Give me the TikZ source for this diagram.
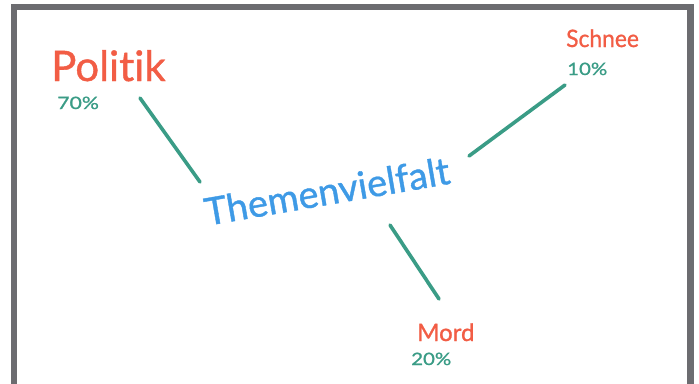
\documentclass[tikz,border=0pt]{standalone}
\usepackage{fontspec}
\setmainfont{Lato}[Ligatures={NoCommon}, FakeBold=1]
\definecolor{framegray}{HTML}{6C6C70}
\definecolor{penred}{HTML}{F25D45}
\definecolor{penteal}{HTML}{3A9C86}
\definecolor{penblue}{HTML}{3E9AE6}
\tikzset{
  topic/.style={text=penred, inner sep=0pt, anchor=base west},
  share/.style={text=penteal, inner sep=0pt, anchor=base west, font=\fontsize{17}{17}\selectfont},
  hub/.style={text=penblue, inner sep=0pt},
  link/.style={draw=penteal, line width=3.6pt, line cap=round},
}
\begin{document}
\begin{tikzpicture}[x=1pt,y=-1pt]
  \useasboundingbox (0,0) rectangle (699,383);
  % board frame
  \fill[framegray] (11,4) rectangle (694,390);
  \fill[white] (17,10) rectangle (687,390);

  % central topic
  \node[hub, rotate=9.8, font=\fontsize{38}{38}\selectfont] (hub) at (327,191) {Themenvielfalt};

  % branches
  \node[topic, font=\fontsize{42}{42}\selectfont] (pol) at (51,81) {Politik};
  \node[share, xscale=1.25] (polpct) at (57,109) {70\%};

  \node[topic, font=\fontsize{24}{24}\selectfont, xscale=0.95] (sch) at (566,47) {Schnee};
  \node[share, xscale=1.2] (schpct) at (567,75) {10\%};

  \node[topic, font=\fontsize{24}{24}\selectfont] (mor) at (417,341) {Mord};
  \node[share, xscale=1.2] (morpct) at (411,365) {20\%};

  % connectors between hub and branches
  \coordinate (p1) at (140,98);
  \coordinate (p2) at (200,182);
  \coordinate (s1) at (469,156);
  \coordinate (s2) at (565,85);
  \coordinate (m1) at (390,225);
  \coordinate (m2) at (439,299);
  \draw[link] (p1) -- (p2);
  \draw[link] (s1) -- (s2);
  \draw[link] (m1) -- (m2);
\end{tikzpicture}
\end{document}
